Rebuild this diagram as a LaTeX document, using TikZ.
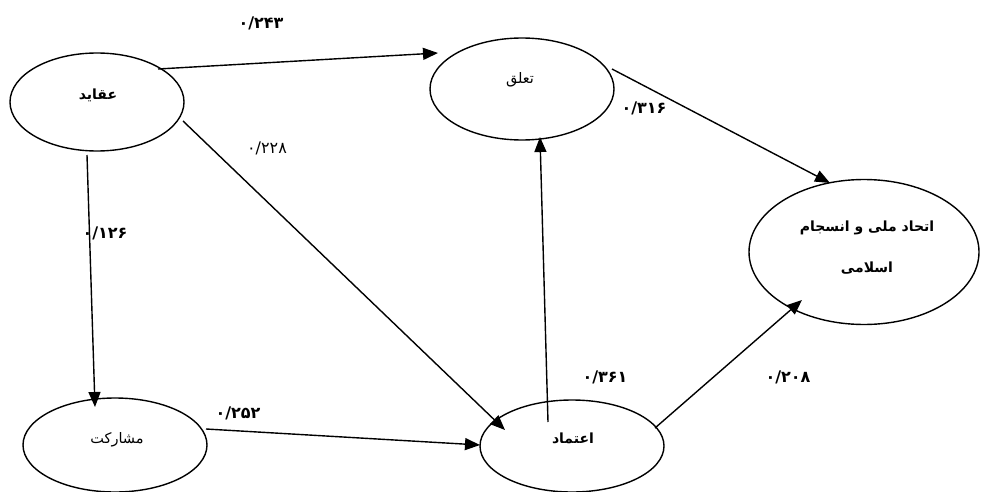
\documentclass[tikz,border=0pt]{standalone}
\usepackage{fontspec}
\usetikzlibrary{shapes.geometric,arrows.meta,calc}
\TeXXeTstate=1
\newfontfamily\arabicfont[Script=Arabic]{DejaVu Sans}
\begin{document}
\begin{tikzpicture}[x=1pt,y=-1pt,
  ell/.style={ellipse,draw,line width=1.4pt,inner sep=0pt},
  conn/.style={line width=1.4pt,-{Triangle[length=15pt,width=12pt]}},
  wordb/.style={inner sep=0pt,font=\arabicfont\bfseries\fontsize{14}{16}\selectfont},
  wordr/.style={inner sep=0pt,font=\arabicfont\fontsize{14.5}{16}\selectfont},
  numb/.style={inner sep=0pt,font=\arabicfont\bfseries\fontsize{16}{18}\selectfont},
  numr/.style={inner sep=0pt,font=\arabicfont\fontsize{16}{18}\selectfont}]
\useasboundingbox (0,0) rectangle (982,492);
\fill[white] (0,0) rectangle (982,492);
% ellipses
\node[ell,minimum width=174pt,minimum height=98pt] (aqayed) at (97,102) {};
\node[ell,minimum width=184pt,minimum height=102pt] (taalloq) at (522,89) {};
\node[ell,minimum width=230pt,minimum height=145pt] (ettehad) at (864,252) {};
\node[ell,minimum width=184pt,minimum height=94pt] (mosharekat) at (115,445) {};
\node[ell,minimum width=184pt,minimum height=92pt] (etemad) at (572,446) {};
% texts
\node[wordb] (aqayedt) at (98,95) {\beginR عقاید\endR};
\node[wordr] (taalloqt) at (520,80) {\beginR تعلق\endR};
\node[wordb] (ettehadt1) at (867,228) {\beginR اتحاد ملی و انسجام\endR};
\node[wordb] (ettehadt2) at (867,268) {\beginR اسلامی\endR};
\node[wordr] (mosharekatt) at (117,440) {\beginR مشارکت\endR};
\node[wordb] (etemadt) at (573,438) {\beginR اعتماد\endR};
% connectors
\draw[conn] ($(aqayed)+(61,-33)$) -- ($(taalloq)+(-84,-36)$);
\draw[conn] ($(aqayed)+(86,19)$) -- ($(etemad)+(-67,-16)$);
\draw[conn] ($(aqayed)+(-10,53)$) -- ($(mosharekat)+(-20,-38)$);
\draw[conn] ($(mosharekat)+(91,-16)$) -- ($(etemad)+(-92,-1)$);
\draw[conn] ($(etemad)+(-24,-24)$) -- ($(taalloq)+(18,48)$);
\draw[conn] ($(etemad)+(83,-18)$) -- ($(ettehad)+(-62,48)$);
\draw[conn] ($(taalloq)+(90,-20)$) -- ($(ettehad)+(-34,-69)$);
% coefficients
\node[numb] (n243) at (261,23) {۰/۲۴۳};
\node[numr] (n228) at (267,148) {۰/۲۲۸};
\node[numb] (n316) at (644,108) {۰/۳۱۶};
\node[numb] (n126) at (105,233) {۰/۱۲۶};
\node[numb] (n252) at (238,413) {۰/۲۵۲};
\node[numb] (n361) at (605,377) {۰/۳۶۱};
\node[numb] (n208) at (788,377) {۰/۲۰۸};
\end{tikzpicture}
\end{document}
